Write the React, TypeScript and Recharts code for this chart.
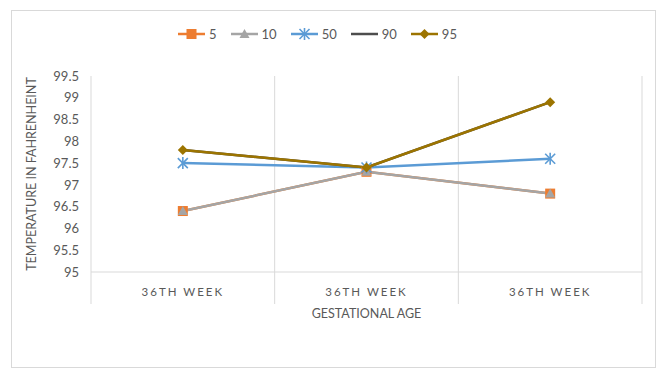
import { LineChart, Line, XAxis, YAxis, CartesianGrid, Label } from 'recharts';

const weeks = ['36TH WEEK', '36TH WEEK', '36TH WEEK'];
const p5 = [96.4, 97.3, 96.8];
const p10 = [96.4, 97.3, 96.8];
const p50 = [97.5, 97.4, 97.6];
const p90 = [97.8, 97.4, 98.9];
const p95 = [97.8, 97.4, 98.9];
const yTicks = [95, 95.5, 96, 96.5, 97, 97.5, 98, 98.5, 99, 99.5];

const series = [
  { key: 'p5', name: '5', color: '#ED7D31', marker: 'square' },
  { key: 'p10', name: '10', color: '#A5A5A5', marker: 'triangle' },
  { key: 'p50', name: '50', color: '#5B9BD5', marker: 'star' },
  { key: 'p90', name: '90', color: '#4D4D4D', marker: 'none' },
  { key: 'p95', name: '95', color: '#9C7400', marker: 'diamond' },
];

const data = weeks.map((w, i) => ({
  x: i + 0.5,
  week: w,
  p5: p5[i],
  p10: p10[i],
  p50: p50[i],
  p90: p90[i],
  p95: p95[i],
}));

const FONT = 'Lato, "Open Sans", sans-serif';
const TEXT = '#595959';
const GRID = '#D9D9D9';

const drawMarker = (kind: string, cx: number, cy: number, color: string, key?: string) => {
  if (kind === 'square') return <rect key={key} x={cx - 5} y={cy - 5} width={10} height={10} fill={color} />;
  if (kind === 'triangle')
    return <path key={key} d={`M${cx},${cy - 5}L${cx + 5},${cy + 4}L${cx - 5},${cy + 4}Z`} fill={color} />;
  if (kind === 'diamond')
    return <path key={key} d={`M${cx},${cy - 5}L${cx + 5},${cy}L${cx},${cy + 5}L${cx - 5},${cy}Z`} fill={color} />;
  if (kind === 'star')
    return (
      <g key={key} stroke={color} strokeWidth={1.6}>
        <line x1={cx - 5} y1={cy - 5} x2={cx + 5} y2={cy + 5} />
        <line x1={cx - 5} y1={cy + 5} x2={cx + 5} y2={cy - 5} />
        <line x1={cx} y1={cy - 6} x2={cx} y2={cy + 6} />
      </g>
    );
  return <g key={key} />;
};

const XTick = (props: any) => {
  const { x, y, payload } = props;
  const v = payload.value as number;
  if (Number.isInteger(v)) {
    return <line x1={x} y1={y - 8} x2={x} y2={y + 24} stroke={GRID} strokeWidth={1} />;
  }
  return (
    <text x={x} y={y + 16} textAnchor="middle" fill={TEXT} fontSize={11.5} fontFamily={FONT} letterSpacing={2}>
      {weeks[Math.floor(v)]}
    </text>
  );
};

const LegendRow = () => (
  <div
    style={{
      position: 'absolute',
      top: 26,
      left: 0,
      width: 635,
      display: 'flex',
      justifyContent: 'center',
      gap: 14,
      fontFamily: FONT,
      fontSize: 13,
      color: TEXT,
    }}
  >
    {series.map((s) => (
      <div key={s.key} style={{ display: 'flex', alignItems: 'center', gap: 4 }}>
        <svg width={27} height={14}>
          <line x1={0} y1={7} x2={27} y2={7} stroke={s.color} strokeWidth={2.5} />
          {drawMarker(s.marker, 13.5, 7, s.color)}
        </svg>
        <span>{s.name}</span>
      </div>
    ))}
  </div>
);

export default function App() {
  return (
    <div style={{ position: 'absolute', left: 0, top: 0, width: 665, height: 373, background: '#fff' }}>
      <div
        style={{
          position: 'absolute',
          left: 11,
          top: 10,
          width: 643,
          height: 356,
          border: `1px solid ${GRID}`,
        }}
      />
      <LegendRow />
      <LineChart
        width={665}
        height={373}
        data={data}
        margin={{ top: 76, right: 23, bottom: 51, left: 25 }}
        style={{ position: 'absolute', left: 0, top: 0 }}
      >
        <CartesianGrid
          horizontal={false}
          stroke={GRID}
          verticalCoordinatesGenerator={({ offset }: any) =>
            [0, 1, 2, 3].map((i) => offset.left + (i * offset.width) / 3)
          }
        />
        <XAxis
          type="number"
          dataKey="x"
          domain={[0, 3]}
          ticks={[0, 0.5, 1, 1.5, 2, 2.5, 3]}
          tick={<XTick />}
          tickLine={false}
          axisLine={{ stroke: GRID }}
          height={50}
          interval={0}
        >
          <Label
            value="GESTATIONAL AGE"
            position="insideBottom"
            offset={4}
            fill={TEXT}
            fontSize={12.5}
            fontFamily={FONT}
          />
        </XAxis>
        <YAxis
          domain={[95, 99.5]}
          ticks={yTicks}
          interval={0}
          tickLine={false}
          axisLine={false}
          width={66}
          tickMargin={6}
          tick={{ fill: TEXT, fontSize: 13, fontFamily: FONT }}
        >
          <Label
            value="TEMPERATURE IN FAHRENHEINT"
            angle={-90}
            position="insideLeft"
            offset={7}
            style={{ textAnchor: 'middle' }}
            fill={TEXT}
            fontSize={12.5}
            fontFamily={FONT}
          />
        </YAxis>
        {series.map((s) => (
          <Line
            key={s.key}
            dataKey={s.key}
            name={s.name}
            stroke={s.color}
            strokeWidth={2.5}
            isAnimationActive={false}
            dot={(p: any) => drawMarker(s.marker, p.cx, p.cy, s.color, `${s.key}-${p.index}`)}
            activeDot={false}
          />
        ))}
      </LineChart>
    </div>
  );
}
